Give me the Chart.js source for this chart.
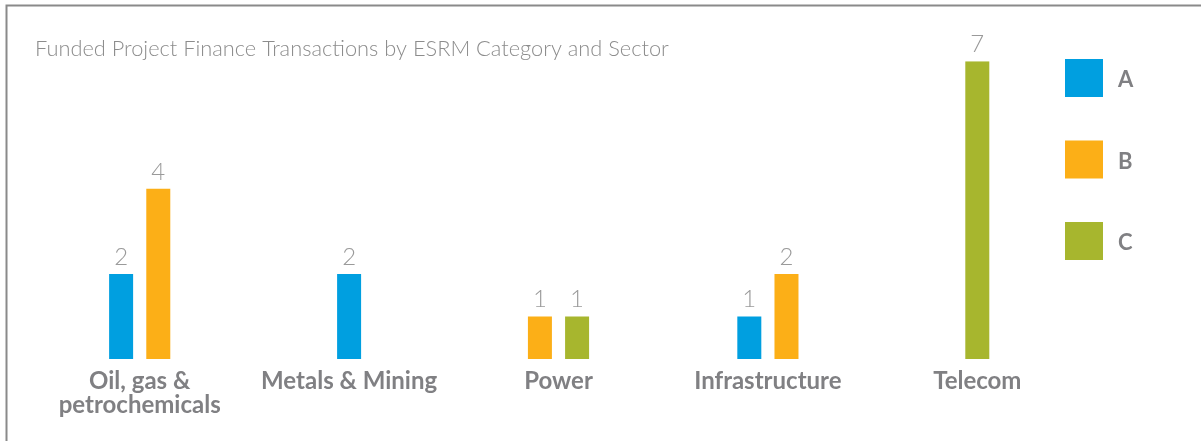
<!DOCTYPE html>
<html>
<head>
<meta charset="utf-8">
<script src="https://cdn.jsdelivr.net/npm/chart.js@4/dist/chart.umd.min.js"></script>
<style>
  html, body { margin: 0; padding: 0; background: #ffffff; }
  #wrap { position: relative; width: 1201px; height: 441px; }
</style>
</head>
<body>
<div id="wrap"><canvas id="chart"></canvas></div>
<script>
// Sectors along the x axis (multi-line labels are arrays)
const sectors = [
  ['Oil, gas &', 'petrochemicals'],
  'Metals & Mining',
  'Power',
  'Infrastructure',
  'Telecom'
];

// Number of funded transactions per ESRM category (null = none in that sector)
const categoryA = [2, 2, null, 1, null];
const categoryB = [4, null, 1, 2, null];
const categoryC = [null, null, 1, null, 7];

const categoryNames = ['A', 'B', 'C'];
const categoryColors = ['#009FE0', '#FCAF17', '#A7B62E'];

const chartTitle = 'Funded Project Finance Transactions by ESRM Category and Sector';

// Thin grey frame along the top and left edges
const framePlugin = {
  id: 'frame',
  beforeDraw(chart) {
    const ctx = chart.ctx;
    ctx.save();
    ctx.strokeStyle = '#8a8a8a';
    ctx.lineWidth = 2;
    ctx.beginPath();
    ctx.moveTo(chart.width, 5.5);
    ctx.lineTo(6.5, 5.5);
    ctx.lineTo(6.5, chart.height);
    ctx.stroke();
    ctx.restore();
  }
};

// Value written above each bar
const valueLabels = {
  id: 'valueLabels',
  afterDatasetsDraw(chart) {
    const ctx = chart.ctx;
    ctx.save();
    ctx.font = '300 24px Lato';
    ctx.fillStyle = '#9a9a9a';
    ctx.textAlign = 'center';
    ctx.textBaseline = 'alphabetic';
    chart.data.datasets.forEach((ds, di) => {
      const meta = chart.getDatasetMeta(di);
      meta.data.forEach((bar, i) => {
        const v = ds.data[i];
        if (v === null || v === undefined) return;
        ctx.fillText(String(v), bar.x, bar.y - 9);
      });
    });
    ctx.restore();
  }
};

// Category key stacked on the right side
const sideKey = {
  id: 'sideKey',
  afterDraw(chart) {
    const ctx = chart.ctx;
    const boxX = chart.width - 136;
    const box = 38;
    const step = 81.5;
    const top = 59;
    ctx.save();
    ctx.font = 'bold 22px Lato';
    ctx.textAlign = 'left';
    ctx.textBaseline = 'middle';
    chart.data.datasets.forEach((ds, i) => {
      const y = top + i * step;
      ctx.fillStyle = ds.backgroundColor;
      ctx.fillRect(boxX, y, box, box);
      ctx.fillStyle = '#808083';
      ctx.fillText(ds.label, boxX + 53, y + box / 2 + 2);
    });
    ctx.restore();
  }
};

const datasets = [categoryA, categoryB, categoryC].map((values, i) => ({
  label: categoryNames[i],
  data: values,
  backgroundColor: categoryColors[i],
  borderWidth: 0,
  categoryPercentage: 0.355,
  barPercentage: 0.9,
  maxBarThickness: 24,
  skipNull: true
}));

new Chart(document.getElementById('chart'), {
  type: 'bar',
  data: { labels: sectors, datasets },
  plugins: [framePlugin, valueLabels, sideKey],
  options: {
    responsive: true,
    maintainAspectRatio: false,
    animation: false,
    layout: { padding: { top: 0, left: 35, right: 119, bottom: 0 } },
    plugins: {
      legend: { display: false },
      tooltip: { enabled: false },
      title: {
        display: true,
        text: chartTitle,
        align: 'start',
        color: '#8c8c8c',
        font: { family: 'Lato', weight: '300', size: 21.8, lineHeight: 1.2 },
        padding: { top: 35.9, bottom: -0.9 }
      }
    },
    scales: {
      x: {
        grid: { display: false, drawTicks: false },
        border: { display: false },
        ticks: {
          color: '#808083',
          font: { family: 'Lato', weight: 'bold', size: 24, lineHeight: 1.0 },
          padding: 10,
          autoSkip: false,
          maxRotation: 0
        },
        afterFit(scale) { scale.height = 82; }
      },
      y: {
        display: false,
        min: 0,
        max: 7
      }
    }
  }
});
</script>
</body>
</html>
